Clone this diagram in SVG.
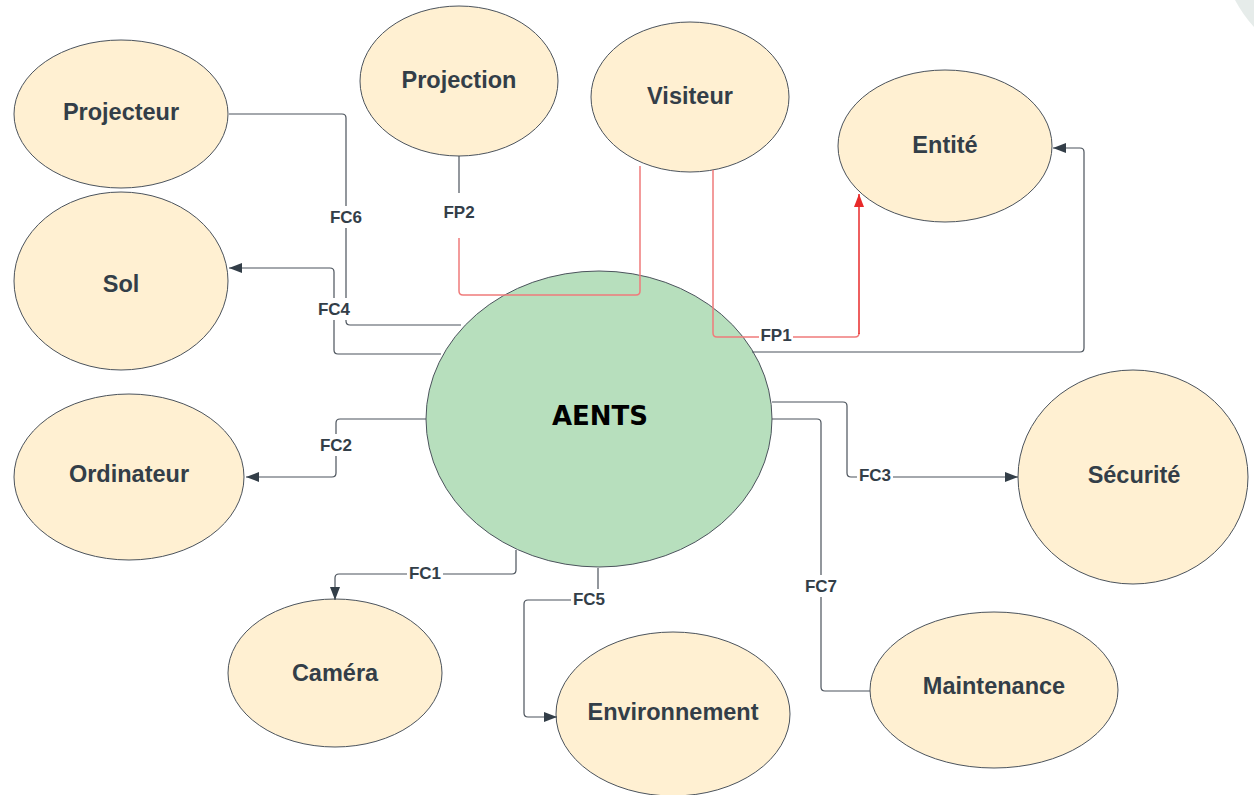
<svg xmlns="http://www.w3.org/2000/svg" width="1254" height="795" viewBox="0 0 1254 795">
<defs>
<marker id="arr" markerUnits="userSpaceOnUse" markerWidth="14" markerHeight="12" refX="13" refY="6" orient="auto">
<path d="M0,1 L13,6 L0,11 Z" fill="#333e48"/>
</marker>
<marker id="arrRed" markerUnits="userSpaceOnUse" markerWidth="14" markerHeight="12" refX="13" refY="6" orient="auto">
<path d="M0,1 L13,6 L0,11 Z" fill="#e82a2a"/>
</marker>
</defs>
<style>
.node{fill:#fff0d2;stroke:#4b535c;stroke-width:1}
.core{fill:#b7dfbd;stroke:#4b535c;stroke-width:1}
.nt{font-family:"Liberation Sans",Arial,sans-serif;font-weight:bold;font-size:23.5px;fill:#333e48;text-anchor:middle}
.ct{font-family:"DejaVu Sans",sans-serif;font-weight:bold;font-size:26px;fill:#000;text-anchor:middle}
.ln{fill:none;stroke:#4b535c;stroke-width:1.2}
.red{fill:none;stroke:#f07b7b;stroke-width:1.5}
.red2{fill:none;stroke:#e82a2a;stroke-width:1.5}
.lb{font-family:"Liberation Sans",Arial,sans-serif;font-weight:bold;font-size:17px;fill:#333e48;text-anchor:middle}
.bg{fill:#fff}
</style>
<rect width="1254" height="795" fill="#fff"/>
<path d="M1235,0 Q1243,15 1254,27 L1254,0 Z" fill="#e6ecea"/>
<g id="projecteur"><ellipse class="node" cx="121" cy="114" rx="107" ry="74"/><text class="nt" x="121" y="120">Projecteur</text></g>
<g id="projection"><ellipse class="node" cx="459" cy="81" rx="99" ry="75"/><text class="nt" x="459" y="88">Projection</text></g>
<g id="visiteur"><ellipse class="node" cx="690" cy="97" rx="99" ry="75"/><text class="nt" x="690" y="104">Visiteur</text></g>
<g id="entite"><ellipse class="node" cx="945" cy="146" rx="107" ry="76"/><text class="nt" x="945" y="153">Entité</text></g>
<g id="sol"><ellipse class="node" cx="121" cy="281" rx="107" ry="89"/><text class="nt" x="121" y="292">Sol</text></g>
<g id="ordinateur"><ellipse class="node" cx="129" cy="477" rx="115" ry="83"/><text class="nt" x="129" y="482">Ordinateur</text></g>
<g id="aents"><ellipse class="core" cx="599" cy="419" rx="173" ry="148"/><text class="ct" x="600" y="425">AENTS</text></g>
<g id="securite"><ellipse class="node" cx="1133" cy="477" rx="115" ry="107"/><text class="nt" x="1134" y="483">Sécurité</text></g>
<g id="camera"><ellipse class="node" cx="335" cy="673" rx="107" ry="74"/><text class="nt" x="335" y="681">Caméra</text></g>
<g id="environnement"><ellipse class="node" cx="673" cy="714" rx="117" ry="82"/><text class="nt" x="673" y="720">Environnement</text></g>
<g id="maintenance"><ellipse class="node" cx="994" cy="690" rx="124" ry="78"/><text class="nt" x="994" y="694">Maintenance</text></g>
<g id="connectors">
<path class="ln" d="M229,114 H342 Q346,114 346,118 V321 Q346,325 350,325 H461"/>
<path class="ln" d="M441,354 H338 Q334,354 334,350 V272 Q334,268 330,268 H229" marker-end="url(#arr)"/>
<path class="ln" d="M459,156 V193"/>
<path class="red" d="M459,238 V291 Q459,295 463,295 H636 Q640,295 640,291 V166"/>
<path class="red" d="M713,170 V333 Q713,337 717,337 H855 Q859,337 859,333"/>
<path class="red2" d="M859,334 V194" marker-end="url(#arrRed)"/>
<path class="ln" d="M752,352 H1080 Q1084,352 1084,348 V152 Q1084,148 1080,148 H1053" marker-end="url(#arr)"/>
<path class="ln" d="M426,419 H340 Q336,419 336,423 V473 Q336,477 332,477 H246" marker-end="url(#arr)"/>
<path class="ln" d="M516,550 V570 Q516,574 512,574 H339 Q335,574 335,578 V600" marker-end="url(#arr)"/>
<path class="ln" d="M598,568 V596 Q598,600 594,600 H528 Q524,600 524,604 V713 Q524,717 528,717 H557" marker-end="url(#arr)"/>
<path class="ln" d="M772,402 H843 Q847,402 847,406 V473 Q847,477 851,477 H1018" marker-end="url(#arr)"/>
<path class="ln" d="M772,419 H817 Q821,419 821,423 V687 Q821,691 825,691 H870"/>
<rect class="bg" x="328" y="206" width="36" height="22"/><text class="lb" x="346" y="223">FC6</text>
<rect class="bg" x="441" y="201" width="36" height="22"/><text class="lb" x="459" y="218">FP2</text>
<rect class="bg" x="316" y="298" width="36" height="22"/><text class="lb" x="334" y="315">FC4</text>
<rect class="bg" x="759" y="325" width="34" height="20"/><text class="lb" x="776" y="341">FP1</text>
<rect class="bg" x="318" y="434" width="36" height="22"/><text class="lb" x="336" y="451">FC2</text>
<rect class="bg" x="407" y="563" width="36" height="21"/><text class="lb" x="425" y="579">FC1</text>
<rect class="bg" x="571" y="589" width="36" height="21"/><text class="lb" x="589" y="605">FC5</text>
<rect class="bg" x="857" y="465" width="36" height="21"/><text class="lb" x="875" y="481">FC3</text>
<rect class="bg" x="803" y="575" width="36" height="22"/><text class="lb" x="821" y="592">FC7</text>
</g>
</svg>
